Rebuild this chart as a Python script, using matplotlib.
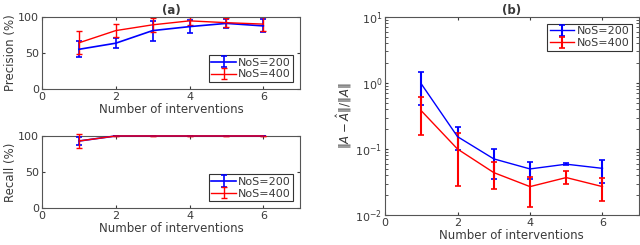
import numpy as np
import matplotlib
matplotlib.use("Agg")
import matplotlib.pyplot as plt

# Daten
interventions = [1, 2, 3, 4, 5, 6]

prec_200 = [55, 63.5, 81, 86.5, 91, 87.5]
prec_200_err = [11, 7, 14, 9, 6, 9]
prec_400 = [64, 81, 89, 94.5, 92, 90]
prec_400_err = [16, 9, 10, 6, 6, 10]

rec_200 = [93, 100, 100, 100, 100, 100]
rec_200_err = [6, 0, 0, 0, 0, 0]
rec_400 = [93, 100, 100, 100, 100, 100]
rec_400_err = [10, 0, 0, 0, 0, 0]

err_200 = [0.97, 0.154, 0.071, 0.050, 0.059, 0.051]
err_200_lo = [0.47, 0.097, 0.035, 0.035, 0.057, 0.031]
err_200_hi = [1.48, 0.218, 0.100, 0.063, 0.062, 0.069]
err_400 = [0.38, 0.100, 0.044, 0.027, 0.037, 0.027]
err_400_lo = [0.163, 0.028, 0.025, 0.0134, 0.030, 0.0165]
err_400_hi = [0.62, 0.175, 0.064, 0.038, 0.046, 0.036]

blau = "#0000ff"
rot = "#ff0000"
grau = "#3a3a3a"

plt.rcParams['font.family'] = ['DejaVu Sans']
plt.rcParams['font.size'] = 8
plt.rcParams['text.color'] = grau
plt.rcParams['axes.labelcolor'] = grau
plt.rcParams['xtick.color'] = grau
plt.rcParams['ytick.color'] = grau
plt.rcParams['axes.edgecolor'] = '#555555'
plt.rcParams['axes.linewidth'] = 0.8


def style(ax):
    ax.tick_params(direction='in', top=True, right=True, length=2.5, labelsize=8,
                   which='both')
    ax.tick_params(axis='both', which='major', pad=2)
    ax.set_xlim(0, 7)
    ax.set_xticks([0, 2, 4, 6])
    ax.set_xlabel("Number of interventions", fontsize=8.5, labelpad=1)


def legende(ax, loc):
    leg = ax.legend(loc=loc, fontsize=8, frameon=True, fancybox=False,
                    handlelength=2.2, borderpad=0.25, labelspacing=0.15,
                    handletextpad=0.2, borderaxespad=0.6)
    leg.get_frame().set_edgecolor('#333333')
    leg.get_frame().set_linewidth(0.8)
    leg.get_frame().set_alpha(1)
    leg.set_zorder(10)


fig = plt.figure(figsize=(6.4, 2.45), dpi=100)

ax1 = fig.add_axes([0.0656, 0.637, 0.4034, 0.294])
ax2 = fig.add_axes([0.0656, 0.151, 0.4034, 0.294])
ax3 = fig.add_axes([0.6016, 0.122, 0.3964, 0.809])

# (a) Precision
ax1.errorbar(interventions, prec_200, yerr=prec_200_err, color=blau, lw=1.2,
             capsize=2, capthick=1.2, label="NoS=200")
ax1.errorbar(interventions, prec_400, yerr=prec_400_err, color=rot, lw=1.0,
             capsize=2, capthick=1.0, label="NoS=400")
ax1.set_ylim(0, 100)
ax1.set_yticks([0, 50, 100])
ax1.set_ylabel("Precision (%)", fontsize=8.5, labelpad=1)
ax1.set_title("(a)", fontsize=8.5, fontweight='bold', pad=2)
style(ax1)
legende(ax1, 'lower right')

# Recall (Linien bei 100 % liegen auf dem oberen Rahmen, daher über die Spines zeichnen)
ax2.errorbar(interventions, rec_200, yerr=rec_200_err, color=blau, lw=1.2,
             capsize=2, capthick=1.2, label="NoS=200", zorder=4)
ax2.errorbar(interventions, rec_400, yerr=rec_400_err, color=rot, lw=1.0,
             capsize=2, capthick=1.0, label="NoS=400", zorder=4)
for art in ax2.lines + list(ax2.collections):
    art.set_clip_on(False)
ax2.set_ylim(0, 100)
ax2.set_yticks([0, 50, 100])
ax2.set_ylabel("Recall (%)", fontsize=8.5, labelpad=1)
style(ax2)
legende(ax2, 'lower right')

# (b) relativer Fehler
ax3.errorbar(interventions, err_200,
             yerr=[np.array(err_200) - np.array(err_200_lo),
                   np.array(err_200_hi) - np.array(err_200)],
             color=blau, lw=1.0, capsize=2, capthick=1.2, elinewidth=1.5,
             label="NoS=200")
ax3.errorbar(interventions, err_400,
             yerr=[np.array(err_400) - np.array(err_400_lo),
                   np.array(err_400_hi) - np.array(err_400)],
             color=rot, lw=1.0, capsize=2, capthick=1.2, elinewidth=1.5,
             label="NoS=400")
ax3.set_yscale('log')
ax3.set_ylim(1e-2, 1e1)
ax3.set_ylabel(r"$\|A-\hat{A}\|/\|A\|$", fontsize=8.5, labelpad=1)
ax3.set_title("(b)", fontsize=8.5, fontweight='bold', pad=2)
style(ax3)
legende(ax3, 'upper right')

fig.savefig("out.png", dpi=100)
